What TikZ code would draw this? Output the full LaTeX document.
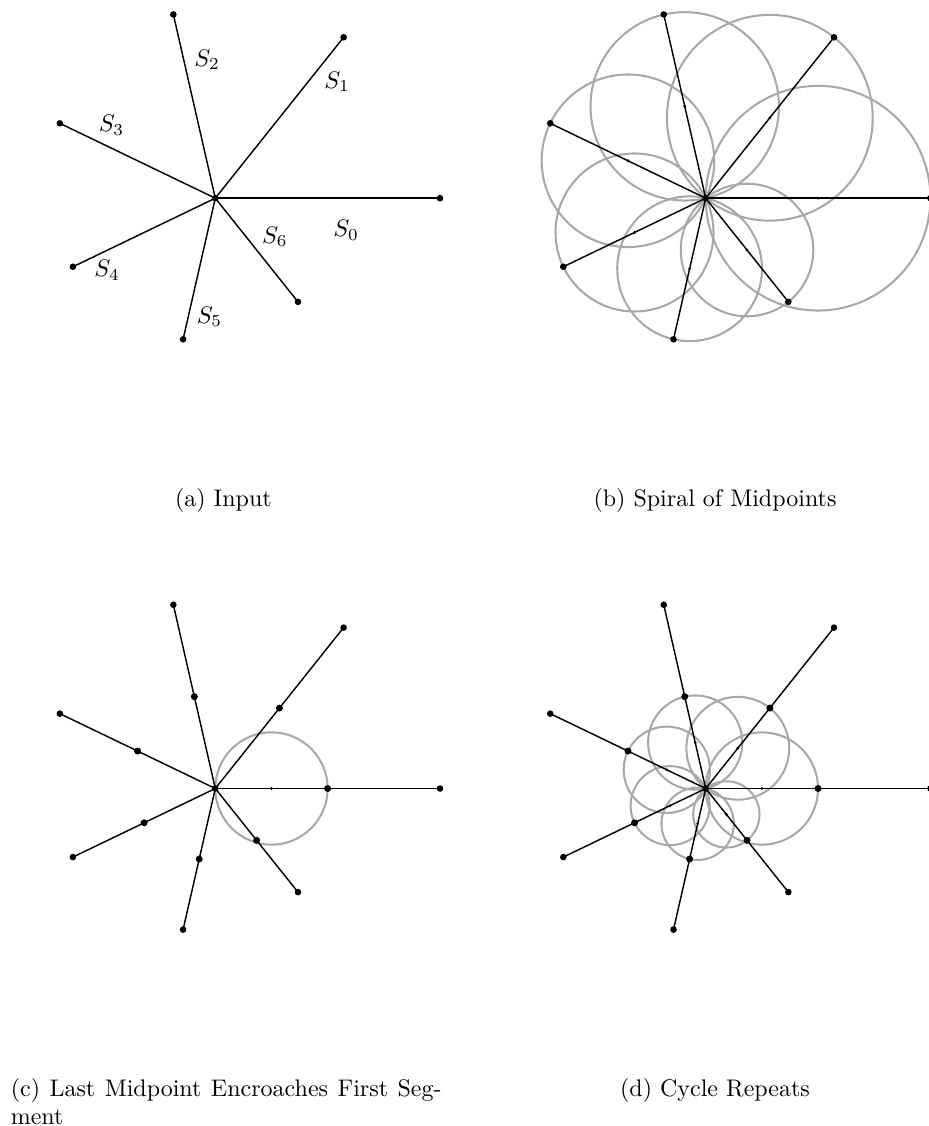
\documentclass[tikz,border=0pt]{standalone}
\usetikzlibrary{calc}
\definecolor{circgray}{RGB}{168,168,168}
\tikzset{
  seg/.style={line width=0.6pt, draw=black},
  circ/.style={line width=0.85pt, draw=circgray},
  lab/.style={inner sep=0pt, anchor=base west, font=\fontsize{10}{12}\selectfont},
  captext/.style={inner sep=0pt, font=\fontsize{10}{12}\selectfont}
}
\begin{document}
\begin{tikzpicture}[x=0.41667pt,y=-0.41667pt]
\useasboundingbox (0,0) rectangle (928,1126);
\def\q{0.9158}
% named points of the four panels
\foreach \p/\ox/\oy in {a/215.3/198.2, b/705.7/198.2, c/215.3/788.5, d/705.7/788.5}{
  \coordinate (\p O) at (\ox,\oy);
  \foreach \k in {0,...,6}{
    \pgfmathsetmacro\L{224.7*\q^\k}
    \pgfmathsetmacro\ang{-\k*360/7}
    \coordinate (\p E\k) at ($(\p O)+(\ang:\L)$);
    \coordinate (\p M\k) at ($(\p O)+(\ang:\L/2)$);
    \coordinate (\p Q\k) at ($(\p O)+(\ang:\L/4)$);
  }
}
% circles
\foreach \k in {0,...,6}{
  \pgfmathsetmacro\L{224.7*\q^\k}
  \draw[circ] (bM\k) circle[radius=\L/2];
  \draw[circ] (dQ\k) circle[radius=\L/4];
}
\draw[circ] (cQ0) circle[radius=224.7/4];
% segments
\foreach \p in {a,b,c,d}{
  \foreach \k in {0,...,6}{
    \draw[seg] (\p O) -- (\p E\k);
  }
}
% dots
\foreach \p in {a,b,c,d}{
  \fill (\p O) circle[radius=3.3];
  \foreach \k in {0,...,6}{
    \fill (\p E\k) circle[radius=3.3];
  }
}
\foreach \k in {0,...,6}{
  \fill (bM\k) circle[radius=1.6];
  \fill (cM\k) circle[radius=3.5];
  \fill (dM\k) circle[radius=3.5];
  \fill (dQ\k) circle[radius=1.6];
}
\fill (cQ0) circle[radius=1.6];
% labels of panel (a)
\node[lab] (lS0) at (333,236.4) {$S_0$};
\node[lab] (lS1) at (324,88) {$S_1$};
\node[lab] (lS2) at (194,66.4) {$S_2$};
\node[lab] (lS3) at (98.3,131.4) {$S_3$};
\node[lab] (lS4) at (94,276.4) {$S_4$};
\node[lab] (lS5) at (196.3,323) {$S_5$};
\node[lab] (lS6) at (261.7,243) {$S_6$};
% captions
\node[captext, anchor=base] (capa) at (223.4,506) {(a) Input};
\node[captext, anchor=base] (capb) at (715,506) {(b) Spiral of Midpoints};
\node[captext, anchor=base west] (capc1) at (10.3,1096) {\makebox[179.5pt][s]{(c) Last Midpoint Encroaches First Seg-}};
\node[captext, anchor=base west] (capc2) at (10.3,1124.8) {ment};
\node[captext, anchor=base] (capd) at (715,1096) {(d) Cycle Repeats};
\end{tikzpicture}
\end{document}
